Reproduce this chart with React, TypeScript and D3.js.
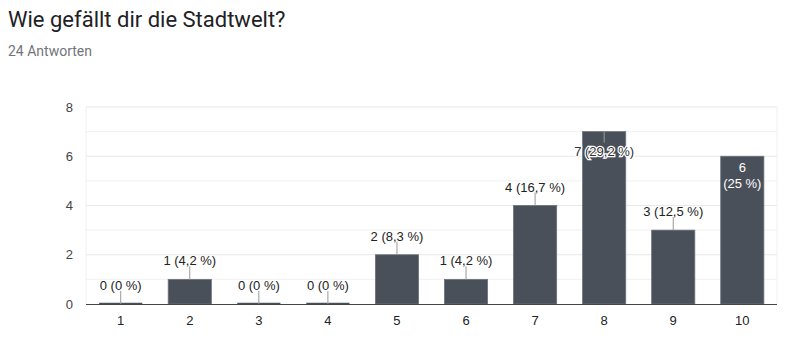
import React from "react";
import * as d3 from "d3";

const categories = ["1", "2", "3", "4", "5", "6", "7", "8", "9", "10"];
const counts = [0, 1, 0, 0, 2, 1, 4, 7, 3, 6];
const total = 24;
const yTicks = [0, 2, 4, 6, 8];
const gridValues = [1, 2, 3, 4, 5, 6, 7, 8];
// how Google placed each annotation
const annotationMode = ["above", "above", "above", "above", "above", "above", "above", "inside", "above", "wrap"];

const title = "Wie gefällt dir die Stadtwelt?";
const subtitle = "24 Antworten";

const W = 800;
const H = 355;
const M = { left: 86, right: 777, top: 107, bottom: 304 };
const FONT = "Roboto, Arial, sans-serif";
const CFONT = "Arial, 'Liberation Sans', sans-serif";

function pct(v: number): string {
  const p = Math.round((v / total) * 1000) / 10;
  const s = Number.isInteger(p) ? String(p) : p.toFixed(1).replace(".", ",");
  return `${s} %`;
}

export default function App() {
  const x = d3.scaleBand<string>().domain(categories).range([M.left, M.right]).paddingInner(0.375).paddingOuter(0.19);
  const y = d3.scaleLinear().domain([0, 8]).range([M.bottom, M.top]);
  const bw = x.bandwidth();

  return (
    <svg width={W} height={H} style={{ position: "absolute", left: 0, top: 0, background: "#fff" }} fontFamily={CFONT}>
      <text x={8} y={27} fontSize={22} fill="#202124" fontFamily={FONT}>{title}</text>
      <text x={8} y={56} fontSize={14} fill="#70757a" fontFamily={FONT}>{subtitle}</text>

      {gridValues.map((g) => (
        <line key={g} x1={M.left} x2={M.right} y1={y(g)} y2={y(g)} stroke={g % 2 === 0 ? "#e8e8e8" : "#f3f3f3"} strokeWidth={1.2} />
      ))}
      <line x1={M.left} x2={M.left} y1={M.top} y2={M.bottom} stroke="#f0f0f0" />
      <line x1={M.right} x2={M.right} y1={M.top} y2={M.bottom} stroke="#f0f0f0" />

      {yTicks.map((t) => (
        <text key={t} x={73} y={y(t) + 4.5} fontSize={13} fill="#444" textAnchor="end">{t}</text>
      ))}

      {categories.map((c, i) => {
        const v = counts[i];
        const x0 = x(c)!;
        const top = y(v);
        return (
          <g key={c}>
            {v > 0 ? (
              <rect x={x0} y={top} width={bw} height={M.bottom - top} fill="#4a505a" stroke="#6d737b" strokeWidth={0.8} />
            ) : (
              <line x1={x0} x2={x0 + bw} y1={M.bottom - 0.5} y2={M.bottom - 0.5} stroke="#4a505a" strokeWidth={1.5} />
            )}
          </g>
        );
      })}

      <line x1={M.left} x2={M.right} y1={M.bottom + 0.5} y2={M.bottom + 0.5} stroke="#444" strokeWidth={1.2} />

      {categories.map((c, i) => {
        const v = counts[i];
        const cx = x(c)! + bw / 2;
        const top = y(v);
        const mode = annotationMode[i];
        const label = `${v} (${pct(v)})`;
        if (mode === "above") {
          return (
            <g key={"a" + c}>
              <line x1={cx} x2={cx} y1={top} y2={top - 13} stroke="#999" strokeWidth={1} />
              <text x={cx} y={top - 14} fontSize={13} fill="#222" textAnchor="middle">{label}</text>
            </g>
          );
        }
        if (mode === "inside") {
          return (
            <g key={"a" + c}>
              <line x1={cx} x2={cx} y1={top} y2={top + 11} stroke="#999" strokeWidth={1} />
              <text x={cx} y={top + 24} fontSize={13} fill="#333" stroke="#fff" strokeWidth={2.5} paintOrder="stroke" textAnchor="middle">{label}</text>
            </g>
          );
        }
        return (
          <g key={"a" + c}>
            <text x={cx} y={top + 16} fontSize={13} fill="#fff" textAnchor="middle">{String(v)}</text>
            <text x={cx} y={top + 32} fontSize={13} fill="#fff" textAnchor="middle">{`(${pct(v)})`}</text>
          </g>
        );
      })}

      {categories.map((c) => (
        <text key={"t" + c} x={x(c)! + bw / 2} y={325} fontSize={13} fill="#222" textAnchor="middle">{c}</text>
      ))}
    </svg>
  );
}
